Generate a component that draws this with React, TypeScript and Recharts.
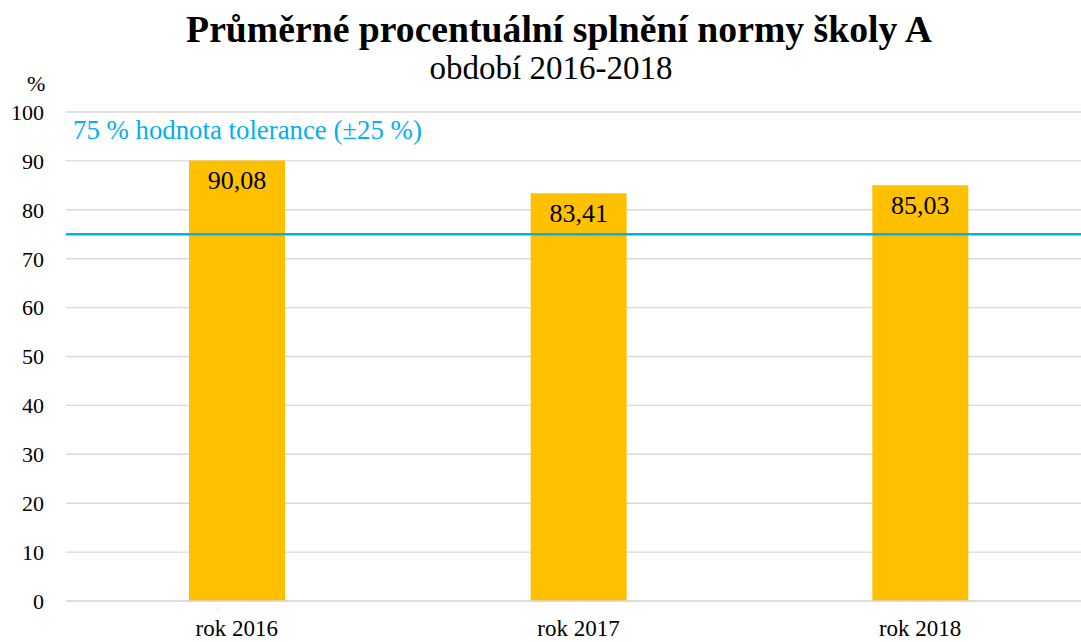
import { BarChart, Bar, XAxis, YAxis, CartesianGrid, ReferenceLine, LabelList } from 'recharts';

const categories = ['rok 2016', 'rok 2017', 'rok 2018'];
const values = [90.08, 83.41, 85.03];
const yTicks = [0, 10, 20, 30, 40, 50, 60, 70, 80, 90, 100];
const tolerance = 75;
const toleranceLabel = '75 % hodnota tolerance (±25 %)';

const data = categories.map((name, i) => ({ name, value: values[i] }));

const FONT = '"Liberation Serif", "Times New Roman", serif';

function ToleranceText({ viewBox }: { viewBox?: { x: number; y: number } }) {
  if (!viewBox) return null;
  return (
    <text x={viewBox.x + 7} y={viewBox.y - 95} fill="#00B0F0" fontSize={26.8}>
      {toleranceLabel}
    </text>
  );
}

export default function App() {
  return (
    <div
      style={{
        position: 'absolute',
        left: 0,
        top: 0,
        width: 1081,
        height: 642,
        overflow: 'hidden',
        background: '#fff',
        fontFamily: FONT,
        color: '#000',
      }}
    >
      <style>{`svg text { font-family: ${FONT}; }`}</style>
      <div
        style={{
          position: 'absolute',
          left: 0,
          width: 1118,
          top: 10,
          textAlign: 'center',
          fontSize: 37.7,
          fontWeight: 'bold',
          lineHeight: '38px',
          whiteSpace: 'nowrap',
        }}
      >
        Průměrné procentuální splnění normy školy A
      </div>
      <div
        style={{
          position: 'absolute',
          left: 0,
          width: 1102,
          top: 52,
          textAlign: 'center',
          fontSize: 33,
          lineHeight: '33px',
          whiteSpace: 'nowrap',
        }}
      >
        období 2016-2018
      </div>
      <div style={{ position: 'absolute', left: 27, top: 73, fontSize: 22, lineHeight: '22px' }}>%</div>
      <BarChart
        width={1091}
        height={642}
        data={data}
        margin={{ top: 112, right: 0, left: 0, bottom: 0 }}
        barSize={96}
      >
        <CartesianGrid vertical={false} stroke="#d9d9d9" strokeWidth={1.4} />
        <XAxis
          dataKey="name"
          height={41}
          axisLine={{ stroke: '#d9d9d9', strokeWidth: 1.4 }}
          tickLine={false}
          tick={{ fontSize: 23, fill: '#000' }}
          tickMargin={13}
        />
        <YAxis
          width={66}
          domain={[0, 100]}
          ticks={yTicks}
          axisLine={false}
          tickLine={false}
          tickSize={0}
          tickMargin={22}
          tick={{ fontSize: 22, fill: '#000' }}
        />
        <Bar dataKey="value" fill="#FFC000" isAnimationActive={false}>
          <LabelList
            dataKey="value"
            position="insideTop"
            offset={10}
            formatter={(v: number) => v.toFixed(2).replace('.', ',')}
            style={{ fontSize: 26, fill: '#000' }}
          />
        </Bar>
        <ReferenceLine
          y={tolerance}
          stroke="#00B0F0"
          strokeWidth={2.4}
          label={<ToleranceText />}
        />
      </BarChart>
    </div>
  );
}
